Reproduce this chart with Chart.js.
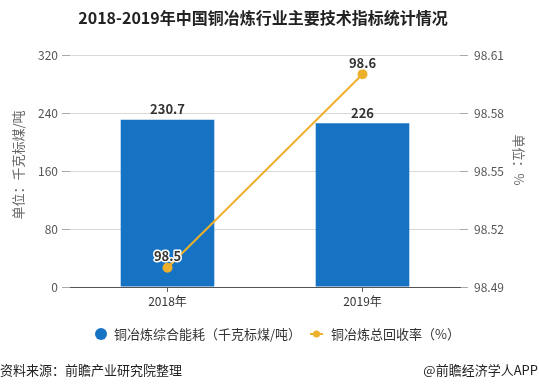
<!DOCTYPE html>
<html>
<head>
<meta charset="utf-8">
<script src="https://cdn.jsdelivr.net/npm/chart.js@4"></script>
<style>
  body { margin: 0; background: #fff; }
  #wrap { width: 539px; height: 390px; }
</style>
</head>
<body>
<div id="wrap"><canvas id="chart" width="539" height="390"></canvas></div>
<script>
// données du graphique
const categories = ['2018年', '2019年'];
const energyValues = [230.7, 226];      // 千克标煤/吨
const recoveryValues = [98.5, 98.6];    // %
const leftTicks = [0, 80, 160, 240, 320];
const rightTicks = [98.49, 98.52, 98.55, 98.58, 98.61];

const FONT = '"Microsoft YaHei", "Noto Sans CJK SC", sans-serif';
const BLUE = '#1673c3';
const ORANGE = '#edb02c';

// textes autour du graphique : titre, titres d'axes, légende, source
const decorPlugin = {
  id: 'decor',
  afterDraw(chart) {
    const ctx = chart.ctx;
    const area = chart.chartArea;
    ctx.save();

    ctx.fillStyle = '#222';
    ctx.font = 'bold 16px ' + FONT;
    ctx.textAlign = 'center';
    ctx.textBaseline = 'middle';
    ctx.fillText('2018-2019年中国铜冶炼行业主要技术指标统计情况', 263, 18);

    // titres des axes
    ctx.font = '13px ' + FONT;
    ctx.fillStyle = '#666';
    ctx.save();
    ctx.translate(18, 165);
    ctx.rotate(-Math.PI / 2);
    ctx.fillText('单位：千克标煤/吨', 0, 0);
    ctx.restore();
    ctx.save();
    ctx.translate(519, 160);
    ctx.rotate(Math.PI / 2);
    ctx.fillText('单位：%', 0, 0);
    ctx.restore();

    // légende
    ctx.textAlign = 'left';
    ctx.font = '13px ' + FONT;
    ctx.fillStyle = BLUE;
    ctx.beginPath();
    ctx.arc(101, 334, 6, 0, Math.PI * 2);
    ctx.fill();
    ctx.fillStyle = '#333';
    ctx.fillText('铜冶炼综合能耗（千克标煤/吨）', 114, 334);

    ctx.strokeStyle = ORANGE;
    ctx.lineWidth = 2;
    ctx.beginPath();
    ctx.moveTo(310, 334);
    ctx.lineTo(323, 334);
    ctx.stroke();
    ctx.fillStyle = ORANGE;
    ctx.beginPath();
    ctx.arc(316.5, 334, 3.5, 0, Math.PI * 2);
    ctx.fill();
    ctx.fillStyle = '#333';
    ctx.fillText('铜冶炼总回收率（%）', 331, 334);

    // source
    ctx.font = '13px ' + FONT;
    ctx.fillStyle = '#222';
    ctx.fillText('资料来源：前瞻产业研究院整理', 0, 370);
    ctx.textAlign = 'right';
    ctx.fillText('@前瞻经济学人APP', 538, 370);

    // étiquettes de valeurs
    ctx.textAlign = 'center';
    ctx.textBaseline = 'bottom';
    ctx.font = 'bold 13px ' + FONT;
    chart.getDatasetMeta(0).data.forEach((bar, i) => {
      ctx.fillStyle = '#333';
      ctx.fillText(String(energyValues[i]), bar.x, bar.y - 4);
    });
    chart.getDatasetMeta(1).data.forEach((pt, i) => {
      const label = recoveryValues[i].toFixed(1);
      ctx.lineWidth = 3;
      ctx.strokeStyle = '#fff';
      ctx.lineJoin = 'round';
      ctx.strokeText(label, pt.x, pt.y - 5);
      ctx.fillStyle = '#333';
      ctx.fillText(label, pt.x, pt.y - 5);
    });
    ctx.restore();
  }
};

const ctx = document.getElementById('chart').getContext('2d');
new Chart(ctx, {
  data: {
    labels: categories,
    datasets: [
      {
        type: 'bar',
        label: '铜冶炼综合能耗（千克标煤/吨）',
        data: energyValues,
        backgroundColor: BLUE,
        yAxisID: 'y',
        barPercentage: 0.48,
        categoryPercentage: 1,
        order: 2
      },
      {
        type: 'line',
        label: '铜冶炼总回收率（%）',
        data: recoveryValues,
        borderColor: ORANGE,
        backgroundColor: ORANGE,
        borderWidth: 2,
        pointRadius: 4,
        pointBackgroundColor: ORANGE,
        pointBorderColor: ORANGE,
        yAxisID: 'y1',
        order: 1
      }
    ]
  },
  options: {
    responsive: false,
    animation: false,
    layout: { padding: { top: 55, left: 0, right: 0, bottom: 0 } },
    plugins: {
      legend: { display: false },
      title: { display: false },
      tooltip: { enabled: false }
    },
    scales: {
      x: {
        afterFit(scale) { scale.height = 103; },
        grid: { drawOnChartArea: false, offset: false, tickLength: 5, color: '#666' },
        border: { color: '#555' },
        ticks: { color: '#333', font: { size: 12, family: FONT }, padding: 2 }
      },
      y: {
        position: 'left',
        min: 0,
        max: 320,
        afterFit(scale) { scale.width = 70; },
        afterBuildTicks(scale) { scale.ticks = leftTicks.map(v => ({ value: v })); },
        grid: { color: '#d9d9d9', tickLength: 8, tickColor: '#aaa' },
        border: { display: false },
        ticks: { color: '#555', font: { size: 12, family: FONT }, padding: 4 }
      },
      y1: {
        position: 'right',
        min: 98.49,
        max: 98.61,
        afterFit(scale) { scale.width = 79; },
        afterBuildTicks(scale) { scale.ticks = rightTicks.map(v => ({ value: v })); },
        grid: { drawOnChartArea: false, tickLength: 8, tickColor: '#aaa' },
        border: { display: false },
        ticks: {
          color: '#555',
          font: { size: 12, family: FONT },
          padding: 6,
          callback: v => v.toFixed(2)
        }
      }
    }
  },
  plugins: [decorPlugin]
});
</script>
</body>
</html>
